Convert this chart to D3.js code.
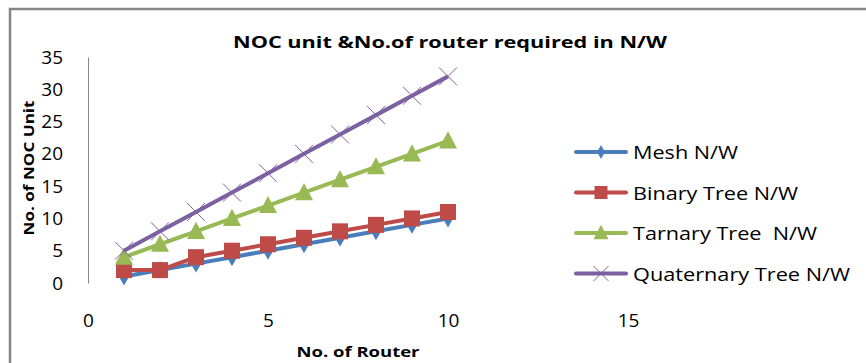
<!DOCTYPE html>
<html>
<head>
<meta charset="utf-8">
<script src="https://cdn.jsdelivr.net/npm/d3@7"></script>
<style>
  html, body { margin: 0; padding: 0; background: #fff; }
  svg { display: block; }
  text { font-family: "Open Sans", "Liberation Sans", sans-serif; fill: #000; white-space: pre; }
</style>
</head>
<body>
<svg id="chart" width="866" height="363"></svg>
<script>
// Data: NOC units needed for each router count, per topology
const routers = [1, 2, 3, 4, 5, 6, 7, 8, 9, 10];
const meshNW = [1, 2, 3, 4, 5, 6, 7, 8, 9, 10];
const binaryTreeNW = [2, 2, 4, 5, 6, 7, 8, 9, 10, 11];
const tarnaryTreeNW = [4, 6, 8, 10, 12, 14, 16, 18, 20, 22];
const quaternaryTreeNW = [5, 8, 11, 14, 17, 20, 23, 26, 29, 32];
const seriesNames = ["Mesh N/W", "Binary Tree N/W", "Tarnary Tree  N/W", "Quaternary Tree N/W"];
const xTicks = [0, 5, 10, 15];
const yTicks = [0, 5, 10, 15, 20, 25, 30, 35];

const series = [
  { name: seriesNames[0], values: meshNW, color: "#4A7EBB", marker: "diamond" },
  { name: seriesNames[1], values: binaryTreeNW, color: "#BE4B48", marker: "square" },
  { name: seriesNames[2], values: tarnaryTreeNW, color: "#98B954", marker: "triangle" },
  { name: seriesNames[3], values: quaternaryTreeNW, color: "#7D60A0", marker: "cross" }
];

const svg = d3.select("#chart");

// Outer chart frame
svg.append("rect")
  .attr("x", 10).attr("y", 9)
  .attr("width", 880).attr("height", 380)
  .attr("fill", "none").attr("stroke", "#868686").attr("stroke-width", 2.5);

const x = d3.scaleLinear().domain([0, 15]).range([88, 628]);
const y = d3.scaleLinear().domain([0, 35]).range([283, 57]);

// Vertical axis line (no tick marks)
const yAxis = d3.axisLeft(y).tickValues(yTicks).tickSize(0).tickPadding(25).tickFormat(d3.format("d"));
const gy = svg.append("g").attr("transform", `translate(${x(0)},0)`).call(yAxis);
gy.select(".domain").attr("stroke", "#868686").attr("stroke-width", 1);
gy.selectAll("text")
  .style("font-size", "19px").style("font-family", "'Open Sans', sans-serif")
  .attr("fill", "#000");

// Horizontal axis labels (axis line hidden)
const xAxis = d3.axisBottom(x).tickValues(xTicks).tickSize(0).tickPadding(0).tickFormat(d3.format("d"));
const gx = svg.append("g").attr("transform", "translate(0,313)").call(xAxis);
gx.select(".domain").remove();
gx.selectAll("text")
  .style("font-size", "19px").style("font-family", "'Open Sans', sans-serif")
  .attr("fill", "#000");

// Titles
svg.append("text")
  .attr("x", 450).attr("y", 48)
  .attr("text-anchor", "middle")
  .attr("textLength", 434).attr("lengthAdjust", "spacingAndGlyphs")
  .style("font-size", "16px").style("font-weight", "bold")
  .text("NOC unit &No.of router required in N/W");

svg.append("text")
  .attr("x", 358).attr("y", 357)
  .attr("text-anchor", "middle")
  .attr("textLength", 123).attr("lengthAdjust", "spacingAndGlyphs")
  .style("font-size", "15px").style("font-weight", "bold")
  .text("No. of Router");

svg.append("text")
  .attr("transform", "translate(34,168) rotate(-90)")
  .attr("text-anchor", "middle")
  .attr("textLength", 135).attr("lengthAdjust", "spacingAndGlyphs")
  .style("font-size", "15px").style("font-weight", "bold")
  .text("No. of NOC Unit");

// Marker drawing helper
function drawMarker(g, type, color, size) {
  if (type === "diamond") {
    g.append("path").attr("d", d3.symbol(d3.symbolDiamond, size * size * 0.55)()).attr("fill", color);
  } else if (type === "square") {
    g.append("rect").attr("x", -size / 2).attr("y", -size / 2)
      .attr("width", size).attr("height", size).attr("fill", color);
  } else if (type === "triangle") {
    const h = size * 0.95;
    g.append("path").attr("d", `M0,${-h / 2 - 2}L${size / 2 + 1},${h / 2}L${-size / 2 - 1},${h / 2}Z`).attr("fill", color);
  } else if (type === "cross") {
    const r = size / 2 + 1;
    g.append("path").attr("d", `M${-r},${-r}L${r},${r}M${-r},${r}L${r},${-r}`)
      .attr("stroke", color).attr("stroke-width", 1).attr("fill", "none");
  }
}

const markerSize = { diamond: 13, square: 16, triangle: 16, cross: 16 };

const line = d3.line().x(d => x(d[0])).y(d => y(d[1]));

series.forEach(s => {
  const pts = routers.map((r, i) => [r, s.values[i]]);
  svg.append("path")
    .attr("d", line(pts))
    .attr("fill", "none").attr("stroke", s.color).attr("stroke-width", 4)
    .attr("stroke-linejoin", "round");
  const g = svg.append("g");
  pts.forEach(p => {
    const m = g.append("g").attr("transform", `translate(${x(p[0])},${y(p[1])})`);
    drawMarker(m, s.marker, s.color, markerSize[s.marker]);
  });
});

// Legend
const legendTextWidths = [105, 165, 184, 217];
const legend = svg.append("g");
series.forEach((s, i) => {
  const ly = 152 + i * 40.5;
  legend.append("line")
    .attr("x1", 576).attr("x2", 626).attr("y1", ly).attr("y2", ly)
    .attr("stroke", s.color).attr("stroke-width", 4).attr("stroke-linecap", "round");
  const m = legend.append("g").attr("transform", `translate(601,${ly})`);
  drawMarker(m, s.marker, s.color, markerSize[s.marker] - 3);
  legend.append("text")
    .attr("x", 633).attr("y", ly + 7)
    .attr("xml:space", "preserve")
    .attr("textLength", legendTextWidths[i]).attr("lengthAdjust", "spacingAndGlyphs")
    .style("font-size", "18px")
    .text(s.name);
});
</script>
</body>
</html>
